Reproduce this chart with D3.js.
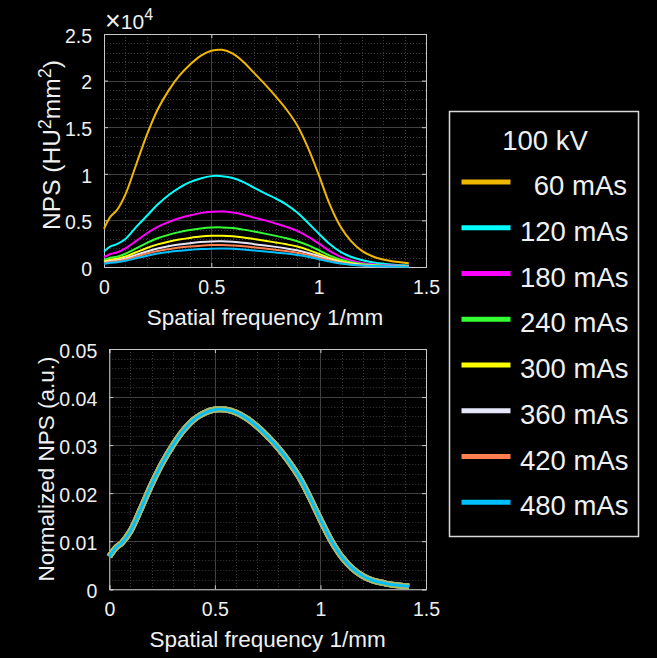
<!DOCTYPE html>
<html><head><meta charset="utf-8">
<script src="https://cdn.jsdelivr.net/npm/d3@7"></script>
<style>
html,body{margin:0;padding:0;background:#000;}
svg{display:block;}
text{font-family:"Liberation Sans",Arial,Helvetica,sans-serif;fill:#f0f0f0;}
</style></head><body>
<svg id="chart" width="657" height="658"></svg>
<script>
// ---------- DATA ----------
const freq = [0,0.03,0.06,0.1,0.15,0.2,0.25,0.3,0.35,0.4,0.45,0.5,0.55,0.6,0.65,0.7,0.75,0.8,0.85,0.9,0.95,1.0,1.05,1.1,1.15,1.2,1.25,1.3,1.35,1.4,1.42];

const seriesLabels = ["\u200260 mAs","120 mAs","180 mAs","240 mAs","300 mAs","360 mAs","420 mAs","480 mAs"];
const seriesColors = ["#F0B800","#00FFFF","#FF00FF","#33FF33","#FFFF00","#E6E6FA","#FF7F50","#00BFFF"];
const legendTitle = "100 kV";

// NPS values in units of 10^4 HU^2 mm^2
const nps60  = [0.41,0.54,0.61,0.78,1.10,1.42,1.69,1.89,2.05,2.17,2.265,2.32,2.33,2.29,2.20,2.08,1.96,1.83,1.69,1.52,1.28,0.99,0.68,0.44,0.28,0.175,0.115,0.08,0.06,0.045,0.04];
const nps120 = [0.165,0.22,0.245,0.30,0.43,0.55,0.67,0.77,0.85,0.91,0.95,0.975,0.975,0.955,0.91,0.85,0.79,0.735,0.67,0.585,0.475,0.36,0.25,0.165,0.11,0.075,0.05,0.035,0.025,0.018,0.015];
const nps180 = [0.105,0.14,0.156,0.20,0.28,0.362,0.431,0.482,0.523,0.553,0.578,0.592,0.595,0.584,0.561,0.53,0.50,0.467,0.431,0.388,0.327,0.253,0.173,0.112,0.071,0.044,0.029,0.02,0.015,0.011,0.01];
const nps240 = [0.075,0.10,0.111,0.142,0.20,0.259,0.308,0.345,0.374,0.396,0.413,0.423,0.425,0.418,0.401,0.38,0.358,0.334,0.308,0.277,0.234,0.181,0.124,0.08,0.051,0.032,0.021,0.014,0.011,0.008,0.007];
const nps300 = [0.059,0.079,0.088,0.112,0.158,0.204,0.243,0.272,0.295,0.312,0.326,0.334,0.335,0.329,0.316,0.299,0.282,0.263,0.243,0.219,0.184,0.142,0.098,0.063,0.04,0.025,0.016,0.011,0.009,0.006,0.006];
const nps360 = [0.048,0.064,0.072,0.092,0.13,0.167,0.199,0.223,0.242,0.256,0.267,0.274,0.275,0.27,0.26,0.245,0.231,0.216,0.199,0.179,0.151,0.117,0.08,0.052,0.033,0.021,0.013,0.009,0.007,0.005,0.005];
const nps420 = [0.042,0.055,0.062,0.079,0.111,0.144,0.171,0.191,0.208,0.22,0.229,0.235,0.236,0.232,0.223,0.211,0.199,0.185,0.171,0.154,0.13,0.10,0.069,0.045,0.028,0.018,0.012,0.008,0.006,0.0045,0.004];
const nps480 = [0.035,0.046,0.052,0.066,0.093,0.121,0.144,0.161,0.174,0.184,0.193,0.197,0.198,0.195,0.187,0.177,0.167,0.156,0.144,0.129,0.109,0.084,0.058,0.037,0.024,0.015,0.01,0.007,0.005,0.004,0.003];

// Normalized NPS (a.u.) -- identical for all exposures
const normNPS = [0.0068,0.0086,0.0097,0.0121,0.0168,0.0218,0.0262,0.0299,0.0330,0.0353,0.0367,0.0374,0.0374,0.0368,0.0356,0.0339,0.0318,0.0294,0.0266,0.0233,0.0191,0.0145,0.0102,0.0068,0.0044,0.0028,0.0018,0.0013,0.0009,0.0007,0.0006];

const xTicks = [0,0.5,1,1.5];
const yTicksTop = [0,0.5,1,1.5,2,2.5];
const yTicksBottom = [0,0.01,0.02,0.03,0.04,0.05];
const xLabel = "Spatial frequency 1/mm";
const yLabelBottom = "Normalized NPS (a.u.)";

const topSeries = [nps60,nps120,nps180,nps240,nps300,nps360,nps420,nps480];

// ---------- DRAW ----------
const svg = d3.select("#chart");

function drawPanel(box, yDomain, yTicks, yMinorStep){
  const x = d3.scaleLinear().domain([0,1.5]).range([box.l, box.r]);
  const y = d3.scaleLinear().domain(yDomain).range([box.b, box.t]);
  const g = svg.append("g");
  const xMinor = d3.range(0, 1.5001, 0.1).filter(v => !xTicks.some(t => Math.abs(t-v)<1e-6));
  const yMinor = d3.range(yDomain[0], yDomain[1]+1e-9, yMinorStep).filter(v => !yTicks.some(t => Math.abs(t-v)<1e-9));
  g.selectAll(".mx").data(xMinor).join("line")
    .attr("x1", d=>Math.round(x(d))+0.5).attr("x2", d=>Math.round(x(d))+0.5)
    .attr("y1", box.t).attr("y2", box.b)
    .attr("stroke","#3a3a3a").attr("stroke-dasharray","1,2");
  g.selectAll(".my").data(yMinor).join("line")
    .attr("y1", d=>Math.round(y(d))+0.5).attr("y2", d=>Math.round(y(d))+0.5)
    .attr("x1", box.l).attr("x2", box.r)
    .attr("stroke","#3a3a3a").attr("stroke-dasharray","1,2");
  g.selectAll(".gx").data(xTicks).join("line")
    .attr("x1", d=>Math.round(x(d))+0.5).attr("x2", d=>Math.round(x(d))+0.5)
    .attr("y1", box.t).attr("y2", box.b).attr("stroke","#404040");
  g.selectAll(".gy").data(yTicks).join("line")
    .attr("y1", d=>Math.round(y(d))+0.5).attr("y2", d=>Math.round(y(d))+0.5)
    .attr("x1", box.l).attr("x2", box.r).attr("stroke","#404040");
  const axB = d3.axisBottom(x).tickValues(xTicks).tickSize(-4).tickPadding(13).tickFormat(d3.format("~g"));
  const axT = d3.axisTop(x).tickValues(xTicks).tickSize(-4).tickFormat("");
  const axL = d3.axisLeft(y).tickValues(yTicks).tickSize(-4).tickPadding(12).tickFormat(d3.format("~g"));
  const axR = d3.axisRight(y).tickValues(yTicks).tickSize(-4).tickFormat("");
  const styleAx = sel => { sel.selectAll("path,line").attr("stroke","#c8c8c8"); sel.selectAll("text").attr("fill","#f0f0f0").attr("font-size",19.5).attr("font-family",'"Liberation Sans",Arial,sans-serif'); };
  g.append("g").attr("transform",`translate(0,${box.b})`).call(axB).call(styleAx)
    .selectAll("text").attr("dy","0.71em");
  g.append("g").attr("transform",`translate(0,${box.t})`).call(axT).call(styleAx);
  g.append("g").attr("transform",`translate(${box.l},0)`).call(axL).call(styleAx)
    .selectAll("text").attr("dy","0.42em");
  g.append("g").attr("transform",`translate(${box.r},0)`).call(axR).call(styleAx);
  return {x, y, g};
}

// ---- top panel ----
const topBox = {l:104, r:426, t:34, b:267};
const P1 = drawPanel(topBox, [0,2.5], yTicksTop, 0.1);
const line1 = d3.line().x((d,i)=>P1.x(freq[i])).y(d=>P1.y(d)).curve(d3.curveCatmullRom);
topSeries.forEach((s,i)=>{
  P1.g.append("path").attr("d", line1(s)).attr("fill","none")
    .attr("stroke", seriesColors[i]).attr("stroke-width",2);
});
// x10^4
const ex = svg.append("text").attr("x",105).attr("y",28.5).style("font-size","21px");
ex.append("tspan").style("font-size","27px").attr("dy",1.5).text("\u00d7");
ex.append("tspan").style("font-size","21px").attr("dy",-1.5).text("10");
ex.append("tspan").style("font-size","16px").attr("dy",-8.5).text("4");
// labels
svg.append("text").attr("x",(topBox.l+topBox.r)/2).attr("y",325).attr("text-anchor","middle").attr("font-size",22.5).text(xLabel);
const yl1 = svg.append("text").attr("transform","translate(60,145) rotate(-90)").attr("text-anchor","middle").attr("font-size",24.5);
yl1.append("tspan").text("NPS (HU");
yl1.append("tspan").attr("dy",-9.5).attr("font-size",18).text("2");
yl1.append("tspan").attr("dy",9.5).text("mm");
yl1.append("tspan").attr("dy",-9.5).attr("font-size",18).text("2");
yl1.append("tspan").attr("dy",9.5).text(")");

// ---- bottom panel ----
const botBox = {l:109.3, r:426, t:349, b:589.3};
const P2 = drawPanel(botBox, [0,0.05], yTicksBottom, 0.002);
const line2 = d3.line().x((d,i)=>P2.x(freq[i])).y(d=>P2.y(d)).curve(d3.curveCatmullRom);
// all normalized curves coincide; draw underlying ones (blended) then the last on top
for (let i = seriesColors.length-2; i >= 0; i--) {
  P2.g.append("path").attr("d", line2(normNPS)).attr("fill","none")
    .attr("stroke", seriesColors[i]).attr("stroke-width",6).attr("stroke-opacity",0.55);
}
P2.g.append("path").attr("d", line2(normNPS)).attr("fill","none")
  .attr("stroke", seriesColors[7]).attr("stroke-width",2.8);
svg.append("text").attr("x",(botBox.l+botBox.r)/2).attr("y",646.7).attr("text-anchor","middle").attr("font-size",22.5).text(xLabel);
svg.append("text").attr("transform","translate(53.5,469) rotate(-90)").attr("text-anchor","middle").attr("font-size",22.5).text(yLabelBottom);

// ---- legend ----
const lg = svg.append("g");
lg.append("rect").attr("x",449.5).attr("y",111.5).attr("width",189).attr("height",425)
  .attr("fill","#000").attr("stroke","#d9d9d9").attr("stroke-width",1.5);
lg.append("text").attr("x",545).attr("y",150).attr("text-anchor","middle").attr("font-size",27.5).text(legendTitle);
const ly = d3.scaleLinear().domain([0,7]).range([182,502.3]);
seriesLabels.forEach((lab,i)=>{
  lg.append("line").attr("x1",461.5).attr("x2",510.5).attr("y1",ly(i)).attr("y2",ly(i))
    .attr("stroke",seriesColors[i]).attr("stroke-width",5);
  lg.append("text").attr("x",520).attr("y",ly(i)+13).attr("font-size",27.5)
    .style("white-space","pre").text(lab);
});
</script>
</body></html>
